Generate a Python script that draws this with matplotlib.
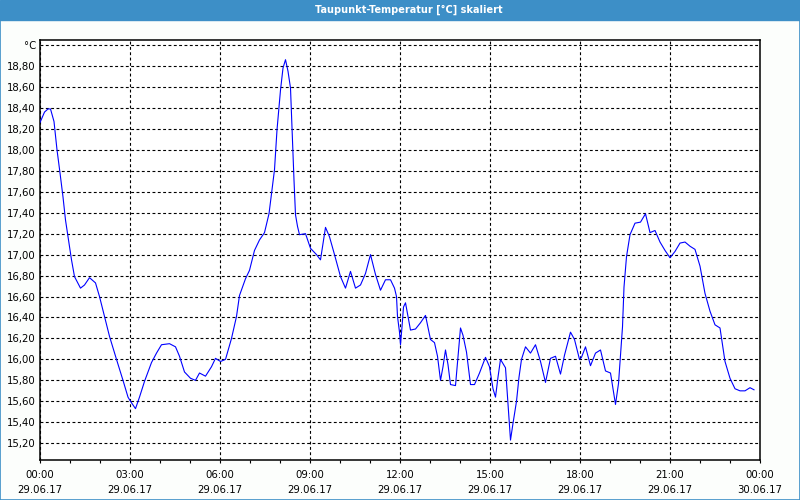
import matplotlib
matplotlib.use('Agg')
import matplotlib.pyplot as plt
from matplotlib.patches import Rectangle
from matplotlib.ticker import FixedLocator, MultipleLocator
import numpy as np

# minutes after 29.06.17 00:00 and dew point temperature (°C)
minutes = [0, 9, 16, 21, 28, 34, 40, 46, 51, 57, 63, 69, 81, 89, 99, 111, 119, 129, 139, 153,
           166, 176, 181, 191, 199, 209, 223, 233, 243, 259, 271, 279, 289, 301, 311, 319, 331, 343, 351, 361,
           371, 383, 393, 399, 411, 419, 429, 439, 449, 458, 464, 469, 474, 481, 486, 491, 496, 501, 504, 508,
           511, 515, 519, 531, 541, 553, 561, 571, 579, 589, 601, 611, 621, 631, 641, 651, 661, 671, 681, 691,
           701, 709, 713, 715, 719, 721, 724, 727, 731, 736, 741, 751, 761, 771, 781, 789, 795, 801, 806, 811,
           816, 821, 831, 836, 841, 846, 853, 861, 869, 879, 891, 899, 906, 911, 916, 921, 931, 936, 941, 946,
           953, 958, 963, 971, 981, 991, 1001, 1011, 1021, 1031, 1041, 1049, 1061, 1069, 1079, 1083, 1091, 1101, 1111, 1121,
           1131, 1141, 1151, 1157, 1165, 1168, 1173, 1180, 1190, 1201, 1211, 1220, 1230, 1240, 1250, 1260, 1270, 1280, 1290, 1300,
           1310, 1320, 1330, 1340, 1350, 1360, 1370, 1380, 1390, 1400, 1410, 1420, 1428]
values = [18.26, 18.36, 18.39, 18.39, 18.27, 18.00, 17.78, 17.55, 17.33, 17.14, 16.95, 16.79, 16.68, 16.71, 16.78, 16.73, 16.60, 16.41, 16.22, 16.00,
          15.80, 15.64, 15.60, 15.53, 15.64, 15.79, 15.97, 16.06, 16.14, 16.15, 16.12, 16.03, 15.88, 15.82, 15.80, 15.87, 15.84, 15.93, 16.01, 15.98,
          16.00, 16.20, 16.41, 16.61, 16.77, 16.85, 17.04, 17.14, 17.21, 17.39, 17.62, 17.81, 18.19, 18.57, 18.78, 18.86, 18.75, 18.59, 18.21, 17.71,
          17.38, 17.27, 17.19, 17.20, 17.06, 17.00, 16.95, 17.26, 17.17, 17.00, 16.79, 16.68, 16.84, 16.68, 16.71, 16.82, 17.00, 16.81, 16.66, 16.76,
          16.76, 16.68, 16.60, 16.41, 16.26, 16.14, 16.31, 16.50, 16.54, 16.41, 16.28, 16.29, 16.35, 16.42, 16.19, 16.16, 16.03, 15.80, 15.93, 16.09,
          15.95, 15.76, 15.75, 16.03, 16.30, 16.23, 16.07, 15.76, 15.76, 15.87, 16.02, 15.93, 15.72, 15.64, 15.83, 16.00, 15.92, 15.57, 15.23, 15.39,
          15.60, 15.83, 16.00, 16.12, 16.06, 16.14, 15.98, 15.78, 16.01, 16.03, 15.86, 16.04, 16.26, 16.19, 16.00, 16.02, 16.12, 15.94, 16.06, 16.09,
          15.89, 15.87, 15.57, 15.77, 16.31, 16.69, 16.98, 17.19, 17.30, 17.31, 17.39, 17.21, 17.23, 17.12, 17.04, 16.97, 17.03, 17.11, 17.12, 17.08,
          17.05, 16.89, 16.63, 16.46, 16.33, 16.30, 15.98, 15.82, 15.72, 15.70, 15.70, 15.73, 15.71]

y_ticks = [15.2, 15.4, 15.6, 15.8, 16.0, 16.2, 16.4, 16.6, 16.8, 17.0, 17.2, 17.4, 17.6, 17.8, 18.0, 18.2, 18.4, 18.6, 18.8, 19.0]
x_ticks = [0, 3, 6, 9, 12, 15, 18, 21, 24]
x_labels = ['00:00\n29.06.17', '03:00\n29.06.17', '06:00\n29.06.17', '09:00\n29.06.17', '12:00\n29.06.17',
            '15:00\n29.06.17', '18:00\n29.06.17', '21:00\n29.06.17', '00:00\n30.06.17']
title = 'Taupunkt-Temperatur [°C] skaliert'

frame_blue = '#3d8fc7'

plt.rcParams['font.family'] = ['DejaVu Sans']
fig = plt.figure(figsize=(8, 5), dpi=100, facecolor='#fcfefc')

# window title bar and frame
fig.patches.append(Rectangle((0, 0.96), 1, 0.04, transform=fig.transFigure, color=frame_blue, zorder=0))
fig.patches.append(Rectangle((0.0006, 0.001), 0.9988, 0.96, transform=fig.transFigure,
                             fill=False, edgecolor=frame_blue, linewidth=1.2, zorder=0))
fig.text(0.511, 0.981, title, color='white', fontsize=7, fontweight='bold', ha='center', va='center')

ax = fig.add_axes([0.05, 0.08, 0.9, 0.84])
ax.set_facecolor('white')
ax.plot(np.array(minutes) / 60.0, values, color='#0000ff', linewidth=0.8, zorder=3)

ax.set_xlim(0, 24)
ax.set_ylim(15.04, 19.048)

ax.yaxis.set_major_locator(FixedLocator(y_ticks))
ax.set_yticklabels(['{:.2f}'.format(v).replace('.', ',') for v in y_ticks[:-1]] + ['°C'])
ax.xaxis.set_major_locator(FixedLocator(x_ticks))
ax.xaxis.set_minor_locator(MultipleLocator(1))
ax.set_xticklabels(x_labels)

ax.tick_params(axis='y', length=0, pad=3, labelsize=7.3, colors='black')
ax.tick_params(axis='x', which='both', length=2.5, width=0.8, direction='out', pad=5, labelsize=7.3)
for lab in ax.get_xticklabels():
    lab.set_linespacing(1.55)

ax.grid(True, which='major', color='black', linewidth=0.8, linestyle=(0, (2.6, 2.2)))
for sp in ax.spines.values():
    sp.set_linewidth(1.1)
    sp.set_color('black')

fig.savefig('out.png', dpi=100, facecolor=fig.get_facecolor())
